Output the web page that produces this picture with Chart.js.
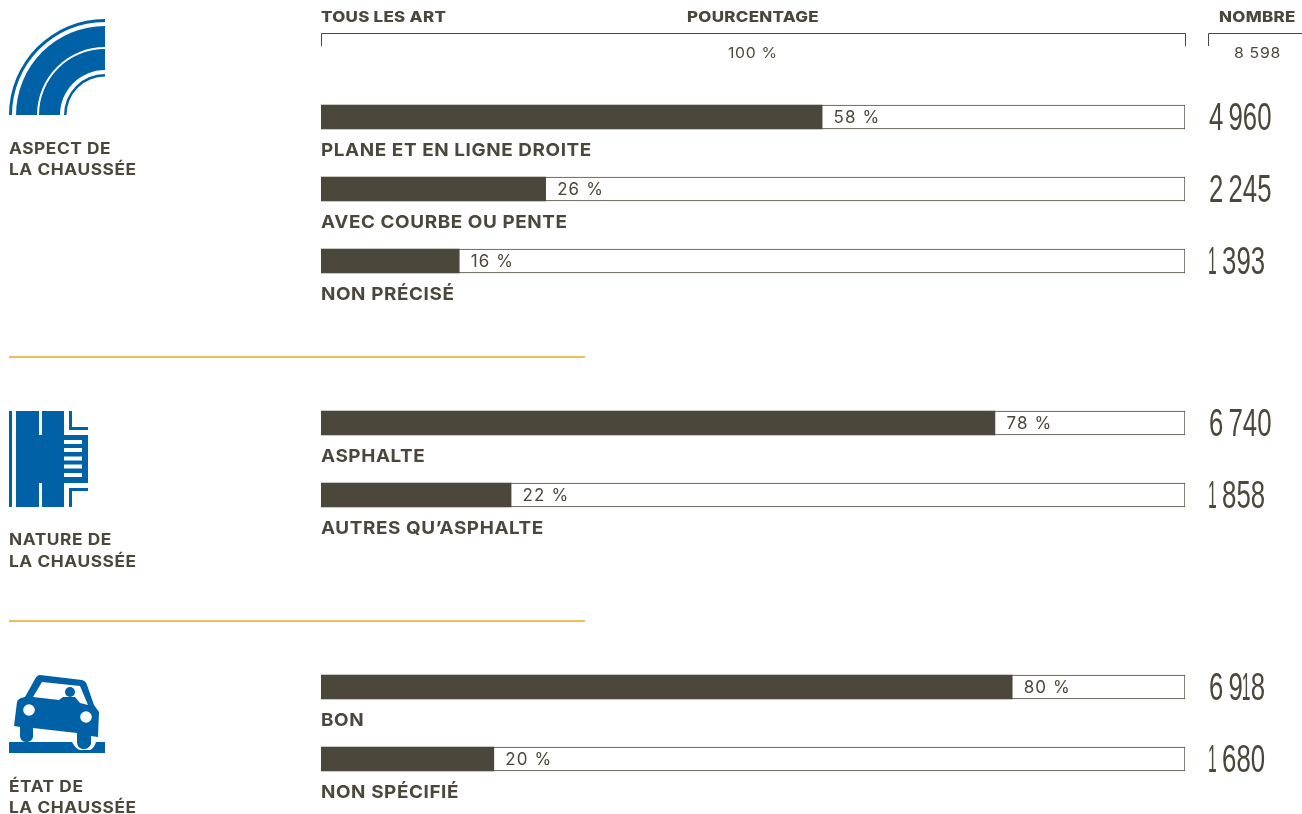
<!DOCTYPE html>
<html lang="fr"><head><meta charset="utf-8">
<script src="https://cdn.jsdelivr.net/npm/chart.js@4"></script>
<style>
html,body{margin:0;padding:0;background:#fff;width:1302px;height:814px;overflow:hidden}
canvas{position:absolute;left:0}
.t{position:absolute;white-space:nowrap;color:#4c473b;font-family:Inter,sans-serif;font-weight:700;line-height:20px;height:20px;transform-origin:left center}
.h{font-size:14.6px;font-weight:800;letter-spacing:.25px;transform:scaleX(1.16)}
.g{font-size:15.6px;letter-spacing:.5px;transform:scaleX(1.11)}
.n{font-weight:400;font-size:14px;letter-spacing:.6px;transform:scaleX(1.13)}
svg{position:absolute;left:0;top:0}
</style></head><body>
<canvas id="c1" style="top:81px"></canvas>
<canvas id="c2" style="top:387px"></canvas>
<canvas id="c3" style="top:651px"></canvas>
<svg width="1302" height="814" viewBox="0 0 1302 814" style="pointer-events:none">
<g fill="none" stroke="#4c473b" stroke-width="1"><path d="M321.5 46V33.5H1185.5V46"/><path d="M1208.5 46V33.5H1302"/></g>
<g stroke="#efbc5c" stroke-width="2"><line x1="9" x2="585" y1="357" y2="357"/><line x1="9" x2="585" y1="621" y2="621"/></g>
<g fill="#0061a6">
<path d="M9 115A96 96 0 0 1 105 19V22A93 93 0 0 0 12 115Z"/>
<path d="M16 115A89 89 0 0 1 105 26V47A68 68 0 0 0 37 115Z"/>
<path d="M39 115A66 66 0 0 1 105 49V70A45 45 0 0 0 60 115Z"/>
<path d="M64 115A41 41 0 0 1 105 74V76.5A38.5 38.5 0 0 0 66.5 115Z"/>
<rect x="9" y="411" width="3" height="96"/>
<path d="M16 411H39V435H42V411H64V435H88V483H64V507H42V483H39V507H16Z"/>
<path d="M69 411H72V427H88V430H69Z"/><path d="M69 488H88V491H72V507H69Z"/>
<path d="M9 742H72C74 746 77 749 80 750H90C93 749 95 745 96 742H105V753H9Z"/>
<path d="M40 675L82 680Q86 681 87 685L94 705L99 712L98 737L91 736V744Q89 749 84 749Q78 749 77 743V733L33 728V737Q32 742 26 742Q20 742 20 735V727L14 726L17 702Q18 698 25 697L35 679Q37 675 40 675Z"/>
</g>
<g fill="#fff">
<rect x="64" y="440" width="18" height="4"/><rect x="64" y="448" width="18" height="4"/><rect x="64" y="456.5" width="18" height="4"/><rect x="64" y="464.5" width="18" height="4"/><rect x="64" y="473" width="18" height="4"/>
<path d="M42 682L80 686L88 705L80 703L75 697H63L59 700L33 697Z"/>
<circle cx="29" cy="710" r="5.8"/><circle cx="86" cy="717" r="5.8"/>
</g>
<circle cx="70" cy="692" r="5" fill="#0061a6"/>
</svg>
<div class="t h" style="left:321px;top:7px">TOUS LES ART</div>
<div class="t h" style="left:687px;top:7px">POURCENTAGE</div>
<div class="t h" style="left:1219px;top:7px">NOMBRE</div>
<div class="t n" style="left:728px;top:43px">100 %</div>
<div class="t n" style="left:1234px;top:43px">8 598</div>
<div class="t g" style="left:9px;top:139px">ASPECT DE</div>
<div class="t g" style="left:9px;top:160px">LA CHAUSSÉE</div>
<div class="t g" style="left:9px;top:530px">NATURE DE</div>
<div class="t g" style="left:9px;top:552px">LA CHAUSSÉE</div>
<div class="t g" style="left:9px;top:777px">ÉTAT DE</div>
<div class="t g" style="left:9px;top:798px">LA CHAUSSÉE</div>
<script>
const INK = '#4c473b';

const aspectLabels = ['PLANE ET EN LIGNE DROITE', 'AVEC COURBE OU PENTE', 'NON PRÉCISÉ'];
const aspectPercent = [58, 26, 16];
const aspectCount = ['4 960', '2 245', '1 393'];

const natureLabels = ['ASPHALTE', 'AUTRES QU’ASPHALTE'];
const naturePercent = [78, 22];
const natureCount = ['6 740', '1 858'];

const etatLabels = ['BON', 'NON SPÉCIFIÉ'];
const etatPercent = [80, 20];
const etatCount = ['6 918', '1 680'];

function drawCount(ctx, text, x, y) {
  // tall condensed numerals: each figure is placed by its own advance
  ctx.save();
  ctx.font = '400 39px "Liberation Sans Narrow", sans-serif';
  ctx.letterSpacing = '0px';
  let pen = x;
  for (const ch of text) {
    if (ch === ' ') { pen += 5; continue; }
    const one = ch === '1';
    ctx.save();
    ctx.translate(one ? pen - 1 : pen, y);
    ctx.scale(one ? 0.4 : 0.66, 1);
    ctx.fillText(ch, 0, 0);
    ctx.restore();
    pen += one ? 8 : 14.4;
  }
  ctx.restore();
}

const rowText = {
  id: 'rowText',
  afterDatasetsDraw(chart, args, opts) {
    const ctx = chart.ctx, x = chart.scales.x, y = chart.scales.y;
    ctx.save();
    ctx.fillStyle = INK;
    ctx.textBaseline = 'middle';
    chart.data.labels.forEach((label, i) => {
      const cy = y.getPixelForValue(i);
      ctx.textAlign = 'left';
      ctx.font = '400 17px Inter, sans-serif';
      ctx.letterSpacing = '1.1px';
      ctx.fillText(opts.percent[i] + ' %', x.getPixelForValue(opts.percent[i]) + 11.5, cy + 0.5);
      ctx.save();
      ctx.translate(x.left, cy + 33.5);
      ctx.scale(1.05, 1);
      ctx.font = '700 18px Inter, sans-serif';
      ctx.letterSpacing = '0.55px';
      ctx.fillText(label, 0, 0);
      ctx.restore();
      drawCount(ctx, opts.count[i], x.right + 24, cy + 2);
    });
    ctx.restore();
  }
};

function draw(id, labels, percent, count, rowsHeight) {
  const el = document.getElementById(id);
  const spare = 24;
  const height = rowsHeight + spare;
  el.style.width = '1302px';
  el.style.height = height + 'px';
  el.width = 1302; el.height = height;
  new Chart(el, {
    type: 'bar',
    plugins: [rowText],
    data: {
      labels,
      datasets: [
        { data: percent, backgroundColor: INK, borderWidth: 0, order: 1 },
        { data: labels.map(() => 100), backgroundColor: '#fff', borderColor: INK, borderWidth: 1, borderSkipped: false, order: 2 }
      ]
    },
    options: {
      indexAxis: 'y',
      responsive: false,
      animation: false,
      layout: { padding: { left: 321, right: 117, top: 0, bottom: spare } },
      datasets: { bar: { grouped: false, barThickness: 24 } },
      scales: {
        x: { display: false, min: 0, max: 100 },
        y: { display: false }
      },
      plugins: { legend: { display: false }, tooltip: { enabled: false }, rowText: { percent, count } }
    }
  });
}
draw('c1', aspectLabels, aspectPercent, aspectCount, 216);
draw('c2', natureLabels, naturePercent, natureCount, 144);
draw('c3', etatLabels, etatPercent, etatCount, 144);
</script>
</body></html>
